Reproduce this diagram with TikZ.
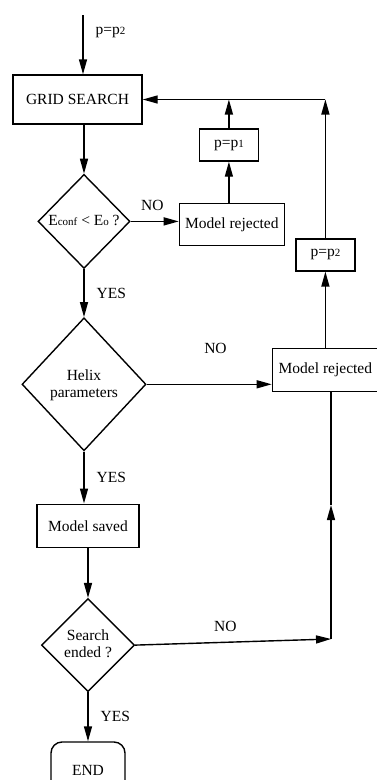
\documentclass[tikz,border=0pt]{standalone}
\usepackage{fontspec}
\setmainfont{Liberation Serif}
\usetikzlibrary{shapes.geometric,positioning,arrows.meta}

\newcommand{\pidx}[1]{{\fontsize{11}{11}\selectfont #1}}
\newcommand{\dtext}[1]{\smash{\makebox[0pt]{\raisebox{-4.5pt}{\begin{tabular}{@{}c@{}}#1\end{tabular}}}}}

\begin{document}
\begin{tikzpicture}[x=1pt,y=-1pt,line width=1.4pt]
	\tikzstyle{every node}=[font=\fontsize{15.5}{17}\selectfont]
	\tikzstyle{box}=[draw, rectangle, inner sep=0pt]
	\tikzstyle{decision}=[draw, diamond, inner sep=0pt]
	\tikzstyle{flow}=[-{Triangle[length=15pt,width=8pt]}]
	\tikzstyle{yes}=[right, inner sep=0pt, xshift=12pt]
	\tikzstyle{no}=[above=10pt, inner sep=0pt]

	\useasboundingbox (0,0) rectangle (377,780);

	\node[box, minimum width=129pt, minimum height=49pt] (grid) at (77.5,99.5) {GRID SEARCH};
	\node[decision, minimum width=92pt, minimum height=94pt, below=49pt of grid, xshift=6.5pt] (d1) {\dtext{E\pidx{conf} < E\pidx{o} ?}};
	\node[box, minimum width=105pt, minimum height=42pt, right=48pt of d1, yshift=-3pt] (rej1) {Model rejected};
	\node[box, minimum width=59pt, minimum height=32pt, above=41pt of rej1, xshift=-3pt] (p1) {p=p\pidx{1}};
	\node[decision, minimum width=124pt, minimum height=133pt, below=48pt of d1] (d2) {\dtext{Helix\\parameters}};
	\node[box, minimum width=106pt, minimum height=43pt, right=125pt of d2, yshift=14.5pt] (rej2) {Model rejected};
	\node[box, minimum width=59pt, minimum height=32pt, above=76pt of rej2] (p2) {p=p\pidx{2}};
	\node[box, minimum width=102pt, minimum height=43pt, below=52pt of d2, xshift=4pt] (saved) {Model saved};
	\node[decision, minimum width=93pt, minimum height=93pt, below=50pt of saved] (d3) {\dtext{Search\\ended ?}};
	\node[box, rounded corners=11pt, minimum width=74pt, minimum height=56pt, below=49pt of d3] (stop) {END};

	\coordinate (start) at (83,15);
	\coordinate (fb) at (p2.north |- grid.east);
	\coordinate (cnr) at (331,639);
	\coordinate (up) at (331,505);

	\draw[flow] (start) -- node[yes, pos=0.3] {p=p\pidx{2}} (start |- grid.north);
	\draw[flow] (grid.south -| d1.north) -- (d1.north);
	\draw[flow] (d1.east) -- node[no, pos=0.45] {NO} (d1.east -| rej1.west);
	\draw[flow] (rej1.north -| p1.south) -- (p1.south);
	\draw[flow] (p1.north) -- (p1.north |- fb);
	\draw[flow] (p2.north) -- (fb);
	\draw[flow] (fb) -- (fb -| grid.east);
	\draw[flow] (d1.south) -- node[yes] {YES} (d1.south |- d2.north);
	\draw[flow] (d2.east) -- node[no, above=30pt, pos=0.55] {NO} (d2.east -| rej2.west);
	\draw[flow] (rej2.north -| p2.south) -- (p2.south);
	\draw[flow] (d2.south) -- node[yes] {YES} (d2.south |- saved.north);
	\draw[flow] (saved.south -| d3.north) -- (d3.north);
	\draw[flow] (d3.east) -- node[no, pos=0.46] {NO} (cnr);
	\draw[flow] (cnr) -- (up);
	\draw (up) -- (cnr |- rej2.south);
	\draw[flow] (d3.south) -- node[yes] {YES} (d3.south |- stop.north);
\end{tikzpicture}
\end{document}
